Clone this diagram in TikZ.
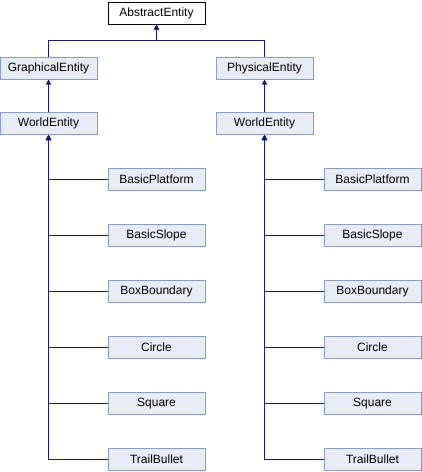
\documentclass[tikz,border=0pt]{standalone}
\usepackage{fontspec}
\setmainfont{Liberation Sans}
\usetikzlibrary{arrows.meta,positioning}
\definecolor{boxfill}{RGB}{232,236,245}
\definecolor{boxline}{RGB}{132,155,204}
\definecolor{edgeblue}{RGB}{25,25,112}

\begin{document}
\begin{tikzpicture}[x=1pt, y=-1pt,
  cls/.style={draw=boxline, fill=boxfill, line width=1pt, font=\fontsize{12}{14}\selectfont,
              minimum width=97pt, minimum height=22pt, inner sep=0pt},
  root/.style={cls, draw=black, fill=white},
  ar/.style={-{Triangle[length=5pt,width=5pt]}, draw=edgeblue, line width=1pt}]
\useasboundingbox (0,0) rectangle (422,472);
\node[root] (ae)  at (156.5,13)   {AbstractEntity};
\node[cls]  (ge)  at (48.5,68)    {GraphicalEntity};
\node[cls]  (pe)  at (264.5,68)   {PhysicalEntity};
\node[cls]  (weg) at (48.5,123.5) {WorldEntity};
\node[cls]  (wep) at (264.5,123.5) {WorldEntity};
\coordinate (bus) at (156.5,40);
\draw[ar] (ge.north) |- (bus) -- (ae.south);
\draw[ar] (pe.north) |- (bus) -- (ae.south);
\draw[ar] (weg) -- (ge);
\draw[ar] (wep) -- (pe);
% subclasses of both WorldEntity nodes
\foreach \name [count=\i] in {BasicPlatform,BasicSlope,BoxBoundary,Circle,Square,TrailBullet} {
  \node[cls] (g\i) at (156.5,123.5+56*\i) {\name};
  \node[cls] (p\i) at (372.5,123.5+56*\i) {\name};
  \draw[ar] (g\i.west) -| (weg.south);
  \draw[ar] (p\i.west) -| (wep.south);
}
\end{tikzpicture}
\end{document}
